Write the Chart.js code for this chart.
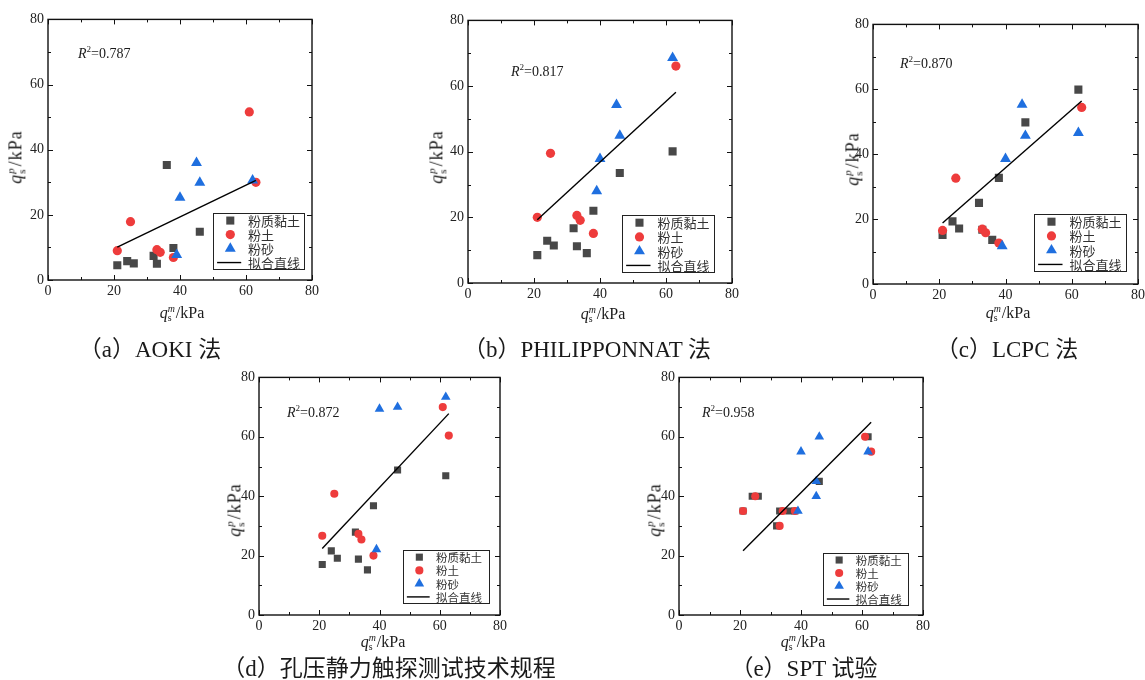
<!DOCTYPE html>
<html>
<head>
<meta charset="utf-8">
<script src="https://cdn.jsdelivr.net/npm/chart.js@4/dist/chart.umd.min.js"></script>
<style>
body { margin:0; width:1145px; height:680px; overflow:hidden; background:#fff; position:relative;
       font-family:"Liberation Serif","Noto Sans CJK SC",serif; color:#1a1a1a; }
canvas { position:absolute; }
.txt { position:absolute; white-space:nowrap; line-height:1; }
.ctr { transform:translate(-50%,-50%); }
.rot { transform:translate(-50%,-50%) rotate(-90deg); letter-spacing:1px; }
.ss { display:inline-block; vertical-align:-0.32em; font-size:0.62em; line-height:0.95; text-align:left; margin-right:1px; }
.ss span { display:block; }
.cap { font-size:23px; font-family:"Liberation Serif","Noto Sans CJK SC",serif; }
</style>
</head>
<body>
<script>
// measured side resistance (x) per soil type
const clayX = [21, 24, 26, 32, 33, 36, 38, 46, 62];   // 粉质黏土
const siltX = [21, 25, 33, 34, 38, 61, 63];           // 粉土
const sandX = [39, 40, 45, 46, 62];                   // 粉砂
const sandX_e = [39, 40, 45, 45, 46, 62];
const fitX = [21, 63];

// predicted values, one set per method (null = hidden under another mark)
const clayY_a = [4.5, 5.8, 5.1, 7.4, 5.0, 35.3, 9.8, 14.8, null];
const siltY_a = [9.0, 17.9, 9.3, 8.5, 6.9, 51.6, 30.0];
const sandY_a = [7.7, 25.3, 36.0, 29.9, 30.6];
const fitY_a = [10.1, 30.6];

const clayY_b = [8.5, 12.9, 11.4, 16.7, 11.2, 9.1, 22.0, 33.5, 40.1];
const siltY_b = [20.0, 39.5, 20.6, 19.1, 15.1, null, 66.1];
const sandY_b = [28.0, 37.8, 54.3, 44.9, 68.6];
const fitY_b = [19.3, 58.1];

const clayY_c = [15.1, 19.3, 17.1, 25.0, 16.7, 13.6, 32.7, 49.8, 59.9];
const siltY_c = [16.5, 32.6, 16.9, 15.8, 12.6, null, 54.4];
const sandY_c = [11.7, 38.6, 55.3, 45.7, 46.6];
const fitY_c = [18.8, 56.4];

const clayY_d = [17.0, 21.6, 19.1, 27.9, 18.8, 15.2, 36.8, 48.8, 46.9];
const siltY_d = [26.7, 40.8, 27.3, 25.4, 20.0, 70.0, 60.4];
const sandY_d = [22.1, 69.4, null, 70.0, 73.4];
const fitY_d = [22.4, 67.8];

const clayY_e = [35, 40, 40, 30, 35, 35, 35, 45, 60];
const siltY_e = [35, 40, 30, 35, 35, 60, 55];
const sandY_e = [35, 55, 40, 45, 60, 55];
const fitY_e = [21.6, 64.9];

const r2Labels = ['0.787', '0.817', '0.870', '0.872', '0.958'];
const captions = ['（a）AOKI 法', '（b）PHILIPPONNAT 法', '（c）LCPC 法', '（d）孔压静力触探测试技术规程', '（e）SPT 试验'];
const seriesNames = ['粉质黏土', '粉土', '粉砂', '拟合直线'];
const axisMin = 0, axisMax = 80, tickStep = 10, labelStep = 20;

// layout of each panel (page pixels)
const panels = [
  { l:48,  t:17,  r:312,  b:280, clay:clayY_a, silt:siltY_a, sand:sandY_a, sx:sandX,   fit:fitY_a,
    r2:[78,53],   yt:[16,157],  xt:[182,313],  leg:[213,213,91,56], lf:13,   ms:1,    cap:[150,349] },
  { l:468, t:18,  r:732,  b:283, clay:clayY_b, silt:siltY_b, sand:sandY_b, sx:sandX,   fit:fitY_b,
    r2:[511,71],  yt:[437,157], xt:[603,314],  leg:[622,215,92,57], lf:13,   ms:1,    cap:[587,349] },
  { l:873, t:22,  r:1138, b:284, clay:clayY_c, silt:siltY_c, sand:sandY_c, sx:sandX,   fit:fitY_c,
    r2:[900,63],  yt:[853,159], xt:[1008,313], leg:[1034,214,92,57], lf:13,  ms:1,    cap:[1007,349] },
  { l:259, t:375, r:500,  b:615, clay:clayY_d, silt:siltY_d, sand:sandY_d, sx:sandX,   fit:fitY_d,
    r2:[287,412], yt:[235,510], xt:[383,642],  leg:[403,550,86,53], lf:11.5, ms:0.88, cap:[389,668] },
  { l:679, t:375, r:923,  b:615, clay:clayY_e, silt:siltY_e, sand:sandY_e, sx:sandX_e, fit:fitY_e,
    r2:[702,412], yt:[655,510], xt:[803,642],  leg:[823,553,85,52], lf:11.5, ms:0.88, cap:[804,668] }
];

Chart.defaults.font.family = '"Liberation Serif", serif';
Chart.defaults.color = '#1a1a1a';

const padL = 45, padB = 40, padT = 10, padR = 12;

function toPts(xs, ys) {
  return xs.map((x, i) => ({ x: x, y: ys[i] })).filter(p => p.y !== null);
}

function drawMark(ctx, style, x, y, r, color) {
  ctx.fillStyle = color;
  ctx.beginPath();
  if (style === 'rect') {
    const s = Math.SQRT1_2 * r;
    ctx.rect(x - s, y - s, 2 * s, 2 * s);
  } else if (style === 'triangle') {
    ctx.moveTo(x, y - r);
    ctx.lineTo(x + 0.866 * r, y + 0.5 * r);
    ctx.lineTo(x - 0.866 * r, y + 0.5 * r);
    ctx.closePath();
  } else {
    ctx.arc(x, y, r, 0, Math.PI * 2);
  }
  ctx.fill();
}

// box frame with inward ticks on all four sides
const framePlugin = {
  id: 'frame',
  afterDraw(chart) {
    const ctx = chart.ctx, a = chart.chartArea, xs = chart.scales.x, ys = chart.scales.y;
    ctx.save();
    ctx.strokeStyle = '#111';
    ctx.lineWidth = 1;
    ctx.beginPath();
    xs.ticks.forEach(t => {
      const px = Math.round(xs.getPixelForValue(t.value)) + 0.5;
      const len = t.value % labelStep === 0 ? 5 : 3;
      ctx.moveTo(px, a.bottom); ctx.lineTo(px, a.bottom - len);
      ctx.moveTo(px, a.top); ctx.lineTo(px, a.top + len);
    });
    ys.ticks.forEach(t => {
      const py = Math.round(ys.getPixelForValue(t.value)) + 0.5;
      const len = t.value % labelStep === 0 ? 5 : 3;
      ctx.moveTo(a.left, py); ctx.lineTo(a.left + len, py);
      ctx.moveTo(a.right, py); ctx.lineTo(a.right - len, py);
    });
    ctx.stroke();
    ctx.lineWidth = 1.4;
    ctx.strokeRect(a.left, a.top, a.right - a.left, a.bottom - a.top);
    ctx.restore();
  }
};

// boxed legend inside the plot area
const boxLegendPlugin = {
  id: 'boxLegend',
  afterDraw(chart, args, o) {
    const ctx = chart.ctx;
    const x0 = o.x, y0 = o.y, w = o.w, h = o.h;
    ctx.save();
    ctx.fillStyle = '#fff';
    ctx.fillRect(x0, y0, w, h);
    ctx.strokeStyle = '#222';
    ctx.lineWidth = 1;
    ctx.strokeRect(x0 + 0.5, y0 + 0.5, w, h);
    ctx.font = o.size + 'px "Noto Sans CJK SC"';
    ctx.textBaseline = 'middle';
    chart.data.datasets.forEach((ds, i) => {
      const cy = y0 + h * (0.135 + i * 0.25);
      if (ds.showLine) {
        ctx.strokeStyle = '#000';
        ctx.lineWidth = 1.4;
        ctx.beginPath();
        ctx.moveTo(x0 + w * 0.045, cy); ctx.lineTo(x0 + w * 0.31, cy);
        ctx.stroke();
      } else {
        drawMark(ctx, ds.pointStyle, x0 + w * 0.19, cy, ds.pointRadius, ds.backgroundColor);
      }
      ctx.fillStyle = '#333';
      ctx.fillText(ds.label, x0 + w * 0.385, cy + 0.5);
    });
    ctx.restore();
  }
};

function addText(html, x, y, cls, size) {
  const d = document.createElement('div');
  d.className = 'txt ' + cls;
  d.style.left = x + 'px';
  d.style.top = y + 'px';
  if (size) d.style.fontSize = size + 'px';
  d.innerHTML = html;
  document.body.appendChild(d);
}

panels.forEach((p, k) => {
  const cv = document.createElement('canvas');
  const cw = (p.r - p.l) + padL + padR, ch = (p.b - p.t) + padT + padB;
  const cl = p.l - padL, ct = p.t - padT;
  cv.width = cw; cv.height = ch;
  cv.style.left = cl + 'px'; cv.style.top = ct + 'px';
  cv.style.width = cw + 'px'; cv.style.height = ch + 'px';
  document.body.appendChild(cv);

  const tickOpts = (pad) => ({
    stepSize: tickStep, autoSkip: false, maxRotation: 0, padding: pad,
    font: { size: 14 }, color: '#222',
    callback: v => (v % labelStep === 0 ? v : '')
  });

  new Chart(cv, {
    type: 'scatter',
    data: {
      datasets: [
        { label: seriesNames[0], data: toPts(clayX, p.clay), pointStyle: 'rect', pointRadius: 5.7 * p.ms,
          backgroundColor: '#484848', borderWidth: 0, order: 4 },
        { label: seriesNames[1], data: toPts(siltX, p.silt), pointStyle: 'circle', pointRadius: 4.6 * p.ms,
          backgroundColor: '#ee3c3c', borderWidth: 0, order: 3 },
        { label: seriesNames[2], data: toPts(p.sx, p.sand), pointStyle: 'triangle', pointRadius: 6.3 * p.ms,
          backgroundColor: '#1f6fdf', borderWidth: 0, order: 2 },
        { label: seriesNames[3], data: toPts(fitX, p.fit), showLine: true, pointRadius: 0,
          borderColor: '#000', borderWidth: 1.4, order: 1 }
      ]
    },
    options: {
      responsive: false,
      devicePixelRatio: 1,
      animation: false,
      events: [],
      layout: { padding: { left: 0, right: padR, top: padT, bottom: 0 } },
      scales: {
        x: { type: 'linear', min: axisMin, max: axisMax, ticks: tickOpts(3),
             grid: { display: false, drawTicks: false }, border: { display: false },
             afterFit: s => { s.height = padB; } },
        y: { type: 'linear', min: axisMin, max: axisMax, ticks: tickOpts(4),
             grid: { display: false, drawTicks: false }, border: { display: false },
             afterFit: s => { s.width = padL; } }
      },
      plugins: {
        legend: { display: false },
        tooltip: { enabled: false },
        boxLegend: { x: p.leg[0] - cl, y: p.leg[1] - ct, w: p.leg[2], h: p.leg[3], size: p.lf }
      }
    },
    plugins: [framePlugin, boxLegendPlugin]
  });

  addText('<i>R</i><sup style="font-size:0.65em">2</sup>=' + r2Labels[k], p.r2[0], p.r2[1] - 8, '', 14);
  addText('<i>q</i><span class="ss"><span><i>p</i></span><span>s</span></span>/kPa', p.yt[0], p.yt[1], 'rot', 18);
  addText('<i>q</i><span class="ss"><span><i>m</i></span><span>s</span></span>/kPa', p.xt[0], p.xt[1], 'ctr', 16);
  addText(captions[k], p.cap[0], p.cap[1], 'ctr cap');
});
</script>
</body>
</html>
